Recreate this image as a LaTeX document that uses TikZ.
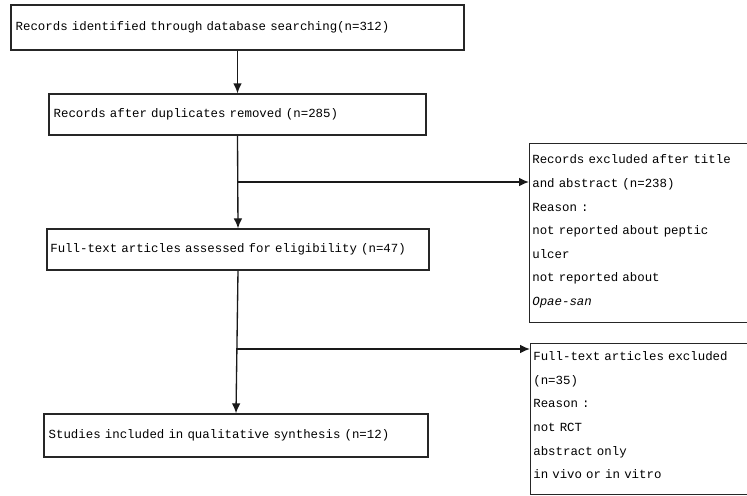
\documentclass[tikz,border=0pt]{standalone}
\usepackage{fontspec}
\setmainfont{Liberation Mono}[WordSpace={1,0,0}]
\usepackage{tikz}
\usetikzlibrary{positioning,arrows.meta}

\tikzset{
  stage/.style={draw=black!85, line width=1pt, align=left, inner xsep=3.5pt, inner ysep=2pt},
  excl/.style={draw=black!85, line width=1pt, align=left, anchor=north west, inner xsep=2pt, text width=200pt},
  flow/.style={draw=black!90, line width=1pt, -{Latex[length=7.5pt,width=6.5pt]}}
}

\begin{document}
\begin{tikzpicture}[x=0.75pt,y=0.75pt,yscale=-1,xscale=1, font=\fontsize{9.3}{17.7}\selectfont]
\clip (0,0) rectangle (747,496);

% main stages
\node[stage, text width=332.75pt, minimum height=33.75pt] (ident) at (237.5,27.5) {Records identified through database searching(n=312)};
\node[stage, text width=275.75pt, minimum height=30.75pt] (dedup) at (237.5,114.5) {Records after duplicates removed (n=285)};
\node[stage, text width=281.5pt, inner xsep=2.5pt, minimum height=30.75pt] (elig) at (238,249.5) {Full-text articles assessed for eligibility (n=47)};
\node[stage, text width=281pt, minimum height=32.25pt] (incl) at (236,435.5) {Studies included in qualitative synthesis (n=12)};

% exclusion boxes
\node[excl, minimum height=134.25pt] (exclA) at (529,143) {Records excluded after title\\and abstract (n=238)\\Reason :\\not reported about peptic\\ulcer\\not reported about\\\textit{Opae-san}\rule[-4.5pt]{0pt}{4.5pt}};
\node[excl, minimum height=113.25pt] (exclB) at (530,343) {Full-text articles excluded\\(n=35)\\Reason :\\not RCT\\abstract only\\in vivo or in vitro\rule[-6pt]{0pt}{6pt}};

% branch points
\coordinate (j1) at (238,182);
\coordinate (j2) at (236,349);

% connectors
\draw[flow] (ident.south) -- (dedup.north);
\draw[flow] (dedup.south) -- (elig.north);
\draw[flow] (j1) -- (j1 -| exclA.west);
\draw[flow] (elig.south) -- (incl.north);
\draw[flow] (j2) -- (j2 -| exclB.west);
\end{tikzpicture}
\end{document}
